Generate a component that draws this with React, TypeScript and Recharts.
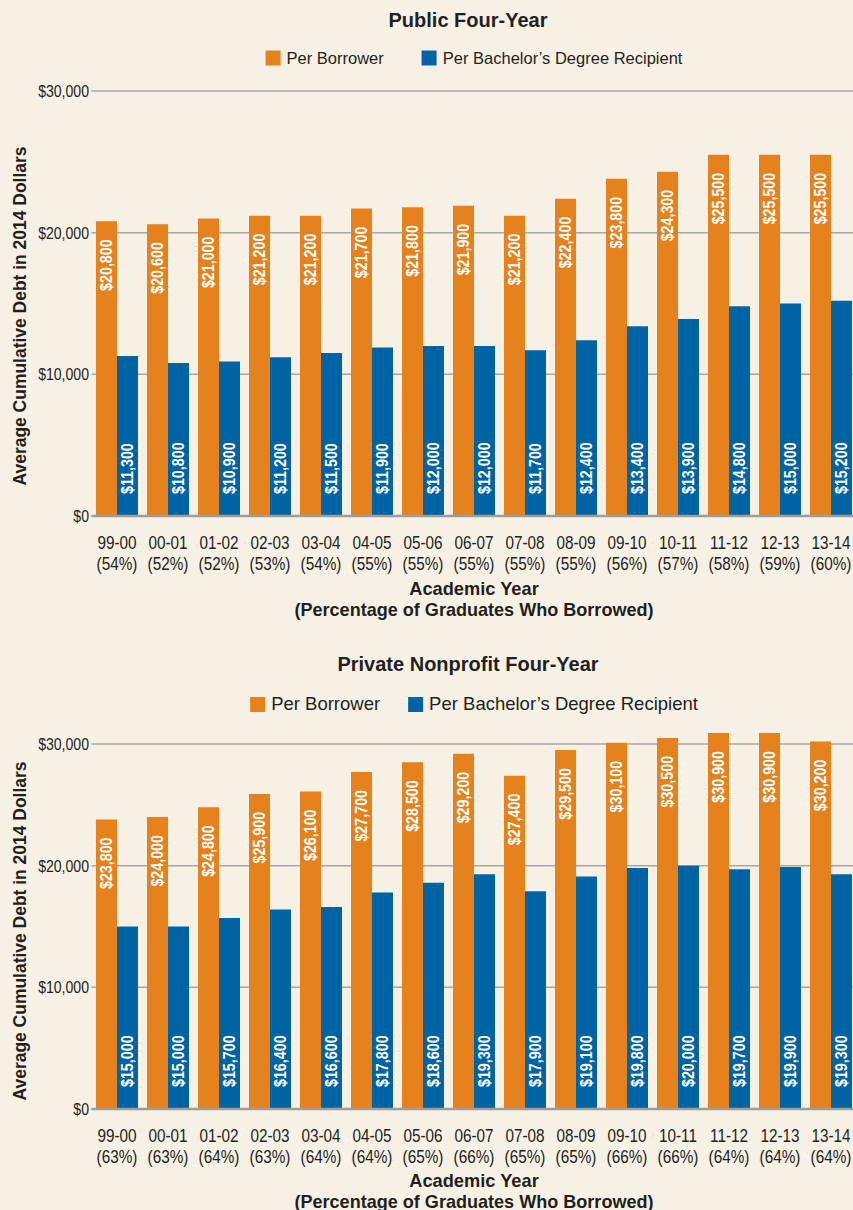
import React from "react";
import { BarChart, Bar, XAxis, YAxis, CartesianGrid, LabelList } from "recharts";

const years = ["99-00", "00-01", "01-02", "02-03", "03-04", "04-05", "05-06", "06-07", "07-08", "08-09", "09-10", "10-11", "11-12", "12-13", "13-14"];

const publicPct = [54, 52, 52, 53, 54, 55, 55, 55, 55, 55, 56, 57, 58, 59, 60];
const publicBorrower = [20800, 20600, 21000, 21200, 21200, 21700, 21800, 21900, 21200, 22400, 23800, 24300, 25500, 25500, 25500];
const publicRecipient = [11300, 10800, 10900, 11200, 11500, 11900, 12000, 12000, 11700, 12400, 13400, 13900, 14800, 15000, 15200];

const privatePct = [63, 63, 64, 63, 64, 64, 65, 66, 65, 65, 66, 66, 64, 64, 64];
const privateBorrower = [23800, 24000, 24800, 25900, 26100, 27700, 28500, 29200, 27400, 29500, 30100, 30500, 30900, 30900, 30200];
const privateRecipient = [15000, 15000, 15700, 16400, 16600, 17800, 18600, 19300, 17900, 19100, 19800, 20000, 19700, 19900, 19300];

const yTicks = [0, 10000, 20000, 30000];

const ORANGE = "#E6821E";
const BLUE = "#0064A4";
const BG = "#F7F1E5";
const TEXT = "#231F20";
const FONT = "'Liberation Sans', Arial, sans-serif";

const fmt = (v: number) => "$" + v.toLocaleString("en-US");

function buildData(pct: number[], a: number[], b: number[]) {
  return years.map((y, i) => ({ year: y, pct: pct[i], borrower: a[i], recipient: b[i] }));
}

const LABEL_SIZE = 17;
const LABEL_SCALE = 0.84;

const TopLabel = (props: any) => {
  const { x, y, width, value } = props;
  const cx = x + width / 2;
  const ty = y + 18;
  return (
    <g transform={`translate(${cx},${ty}) rotate(-90) scale(${LABEL_SCALE},1)`}>
      <text x={0} y={0} textAnchor="end" dominantBaseline="central"
        fill="#fff" fontSize={LABEL_SIZE} fontWeight="bold" fontFamily={FONT}>
        {fmt(value)}
      </text>
    </g>
  );
};

const BottomLabel = (props: any) => {
  const { x, y, width, height, value } = props;
  const cx = x + width / 2;
  const ty = y + height - 22;
  return (
    <g transform={`translate(${cx},${ty}) rotate(-90) scale(${LABEL_SCALE},1)`}>
      <text x={0} y={0} textAnchor="start" dominantBaseline="central"
        fill="#fff" fontSize={LABEL_SIZE} fontWeight="bold" fontFamily={FONT}>
        {fmt(value)}
      </text>
    </g>
  );
};

const YTick = (props: any) => {
  const { x, y, payload } = props;
  return (
    <g transform={`translate(${x - 2.5},${y}) scale(0.88,1)`}>
      <text x={0} y={0} textAnchor="end" dominantBaseline="central" fill={TEXT} fontSize={16} fontFamily={FONT}>
        {fmt(payload.value)}
      </text>
    </g>
  );
};

type PanelProps = {
  title: string;
  data: any[];
  height: number;
  top: number;
  bottom: number;
  yMax: number;
  titleY: number;
  legendY: number;
  legendFont: number;
  legendGap: number;
  axisTitleY: number;
  yLabelY: number;
};

const X_AXIS_H = 30;

function Panel(p: PanelProps) {
  const XTick = (props: any) => {
    const { x, y, payload, index } = props;
    const d = p.data[index] || p.data.find((r: any) => r.year === payload.value);
    return (
      <g transform={`translate(${x},${y}) scale(0.85,1)`}>
        <text x={0} y={19} textAnchor="middle" dominantBaseline="central" fill={TEXT} fontSize={18} fontFamily={FONT}>
          {payload.value}
        </text>
        <text x={0} y={40} textAnchor="middle" dominantBaseline="central" fill={TEXT} fontSize={18} fontFamily={FONT}>
          {`(${d ? d.pct : ""}%)`}
        </text>
      </g>
    );
  };

  const sq = { width: 15, height: 15, display: "inline-block", marginRight: 6 } as React.CSSProperties;

  return (
    <div style={{ position: "relative", width: 861, height: p.height }}>
      <div style={{ position: "absolute", left: 468, top: p.titleY, transform: "translate(-50%, -50%)", fontFamily: FONT, fontWeight: "bold", fontSize: 20, color: TEXT, whiteSpace: "nowrap" }}>
        {p.title}
      </div>
      <div style={{ position: "absolute", left: 474, top: p.legendY, transform: "translate(-50%, -50%)", display: "flex", alignItems: "center", fontFamily: FONT, fontSize: p.legendFont, color: TEXT, whiteSpace: "nowrap" }}>
        <span style={{ ...sq, background: ORANGE }} />
        <span style={{ marginRight: p.legendGap }}>Per Borrower</span>
        <span style={{ ...sq, background: BLUE }} />
        <span>Per Bachelor’s Degree Recipient</span>
      </div>
      <BarChart width={861} height={p.height} data={p.data}
        margin={{ top: p.top, right: 4.5, bottom: p.height - p.bottom - X_AXIS_H, left: 0 }}
        barCategoryGap={4.5} barGap={0}>
        <CartesianGrid vertical={false} horizontalValues={yTicks} stroke="#A9A7A3" strokeWidth={1.5} />
        <XAxis dataKey="year" height={X_AXIS_H} tick={<XTick />} tickLine={false} axisLine={{ stroke: "#9E9D9A", strokeWidth: 2.5 }} interval={0} />
        <YAxis width={91.5} domain={[0, p.yMax]} ticks={yTicks} tickLine={false} tickSize={0} tickMargin={0} axisLine={false} tick={<YTick />} />
        <Bar dataKey="borrower" fill={ORANGE} isAnimationActive={false}>
          <LabelList dataKey="borrower" content={<TopLabel />} />
        </Bar>
        <Bar dataKey="recipient" fill={BLUE} isAnimationActive={false}>
          <LabelList dataKey="recipient" content={<BottomLabel />} />
        </Bar>
      </BarChart>
      <div style={{ position: "absolute", left: 20, top: p.yLabelY, transform: "translate(-50%, -50%) rotate(-90deg) scaleX(0.97)", fontFamily: FONT, fontWeight: "bold", fontSize: 18, color: TEXT, whiteSpace: "nowrap" }}>
        Average Cumulative Debt in 2014 Dollars
      </div>
      <div style={{ position: "absolute", left: 474, top: p.axisTitleY, transform: "translate(-50%, -50%) scaleX(0.96)", fontFamily: FONT, fontWeight: "bold", fontSize: 19, color: TEXT, whiteSpace: "nowrap", lineHeight: "21px" }}>
        Academic Year
      </div>
      <div style={{ position: "absolute", left: 474, top: p.axisTitleY + 21, transform: "translate(-50%, -50%) scaleX(0.95)", fontFamily: FONT, fontWeight: "bold", fontSize: 19, color: TEXT, whiteSpace: "nowrap", lineHeight: "21px" }}>
        (Percentage of Graduates Who Borrowed)
      </div>
    </div>
  );
}

export default function App() {
  const pub = buildData(publicPct, publicBorrower, publicRecipient);
  const priv = buildData(privatePct, privateBorrower, privateRecipient);
  return (
    <div style={{ position: "absolute", left: 0, top: 0, width: 853, height: 1210, overflow: "hidden", background: BG }}>
      <Panel title="Public Four-Year" data={pub} height={640} top={91} bottom={516} yMax={30000} titleY={20} legendY={58}
        legendFont={16.5} legendGap={38} axisTitleY={588} yLabelY={316} />
      <Panel title="Private Nonprofit Four-Year" data={priv} height={570} top={79.67} bottom={469} yMax={32000} titleY={24} legendY={64}
        legendFont={18.5} legendGap={28} axisTitleY={540} yLabelY={291} />
    </div>
  );
}
